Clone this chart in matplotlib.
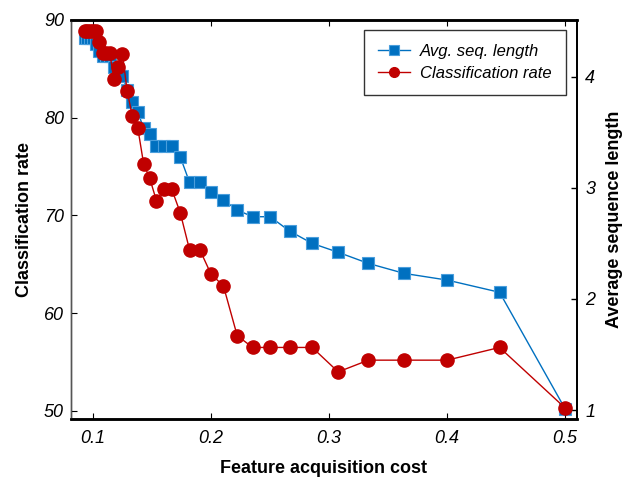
import matplotlib
matplotlib.use("Agg")
import matplotlib.pyplot as plt

cost = [0.0930, 0.0952, 0.0976, 0.1000, 0.1026, 0.1053, 0.1081, 0.1111, 0.1143,
        0.1176, 0.1212, 0.1250, 0.1290, 0.1333, 0.1379, 0.1429, 0.1481, 0.1538,
        0.1600, 0.1667, 0.1739, 0.1818, 0.1905, 0.2000, 0.2105, 0.2222, 0.2353,
        0.2500, 0.2667, 0.2857, 0.3077, 0.3333, 0.3636, 0.4000, 0.4444, 0.5000]

class_rate = [88.9, 88.9, 88.9, 88.9, 88.9, 87.7, 86.6, 86.6, 86.6,
              84.0, 85.2, 86.5, 82.7, 80.2, 79.0, 75.3, 73.8, 71.5,
              72.7, 72.7, 70.3, 66.5, 66.5, 64.0, 62.8, 57.7, 56.5,
              56.5, 56.5, 56.5, 54.0, 55.2, 55.2, 55.2, 56.5, 50.3]

seq_len = [4.35, 4.35, 4.35, 4.35, 4.29, 4.23, 4.19, 4.19, 4.19,
           4.09, 4.05, 4.01, 3.88, 3.77, 3.68, 3.54, 3.48, 3.38,
           3.38, 3.38, 3.28, 3.05, 3.05, 2.96, 2.89, 2.80, 2.74,
           2.74, 2.61, 2.50, 2.42, 2.32, 2.23, 2.17, 2.06, 1.01]

x_ticks = [0.1, 0.2, 0.3, 0.4, 0.5]
left_ticks = [50, 60, 70, 80, 90]
right_ticks = [1, 2, 3, 4]

plt.rcParams['font.family'] = ['Liberation Sans', 'DejaVu Sans']

blue = '#0070C0'
blue_edge = '#4A9EDC'
red = '#C00000'

fig = plt.figure(figsize=(6.27, 4.78), dpi=100)
ax = fig.add_axes([71/627, 1-419/478, 506/627, 399/478])
ax2 = ax.twinx()

l2, = ax2.plot(cost, seq_len, color=blue, lw=1.0, marker='s', markersize=8.5,
               markerfacecolor=blue, markeredgecolor=blue_edge, markeredgewidth=0.8,
               label='Avg. seq. length', zorder=2)
l1, = ax.plot(cost, class_rate, color=red, lw=1.0, marker='o', markersize=9.5,
              markerfacecolor=red, markeredgecolor=red, label='Classification rate',
              zorder=3)

ax.set_zorder(ax2.get_zorder() + 1)
ax.patch.set_visible(False)

ax.set_xlim(0.0814, 0.510)
ax.set_ylim(49.18, 90)
ax2.set_ylim(0.92, 4.51)

ax.set_xticks(x_ticks)
ax.set_xticklabels([f'{t:.1f}' for t in x_ticks])
ax.set_yticks(left_ticks)
ax2.set_yticks(right_ticks)

for a in (ax, ax2):
    for lab in a.get_xticklabels() + a.get_yticklabels():
        lab.set_fontstyle('italic')
        lab.set_fontsize(13)

ax.tick_params(axis='x', direction='in', top=True, length=4, width=0.8, pad=8)
ax.tick_params(axis='y', direction='in', length=4, width=0.8, pad=5)
ax2.tick_params(axis='y', direction='in', length=4, width=1.0, pad=6)

for a in (ax, ax2):
    a.spines['top'].set_linewidth(1.8)
    a.spines['bottom'].set_linewidth(1.8)
    a.spines['left'].set_linewidth(1.0)
    a.spines['left'].set_color('#555555')
    a.spines['right'].set_linewidth(1.3)

ax.set_xlabel('Feature acquisition cost', fontsize=13, fontweight='bold', labelpad=9)
ax.set_ylabel('Classification rate', fontsize=13, fontweight='bold', labelpad=8)
ax2.set_ylabel('Average sequence length', fontsize=13, fontweight='bold', labelpad=8)

leg = ax.legend(handles=[l2, l1], loc='upper right', bbox_to_anchor=(0.978, 0.975),
                borderaxespad=0.0,
                frameon=True, fancybox=False, edgecolor='black',
                prop={'style': 'italic', 'size': 12}, handlelength=1.9,
                borderpad=0.85, labelspacing=0.4, handletextpad=0.6)
leg.get_frame().set_linewidth(1.0)
for h in leg.legend_handles:
    h.set_markersize(7)

fig.savefig('out.png', dpi=100)
